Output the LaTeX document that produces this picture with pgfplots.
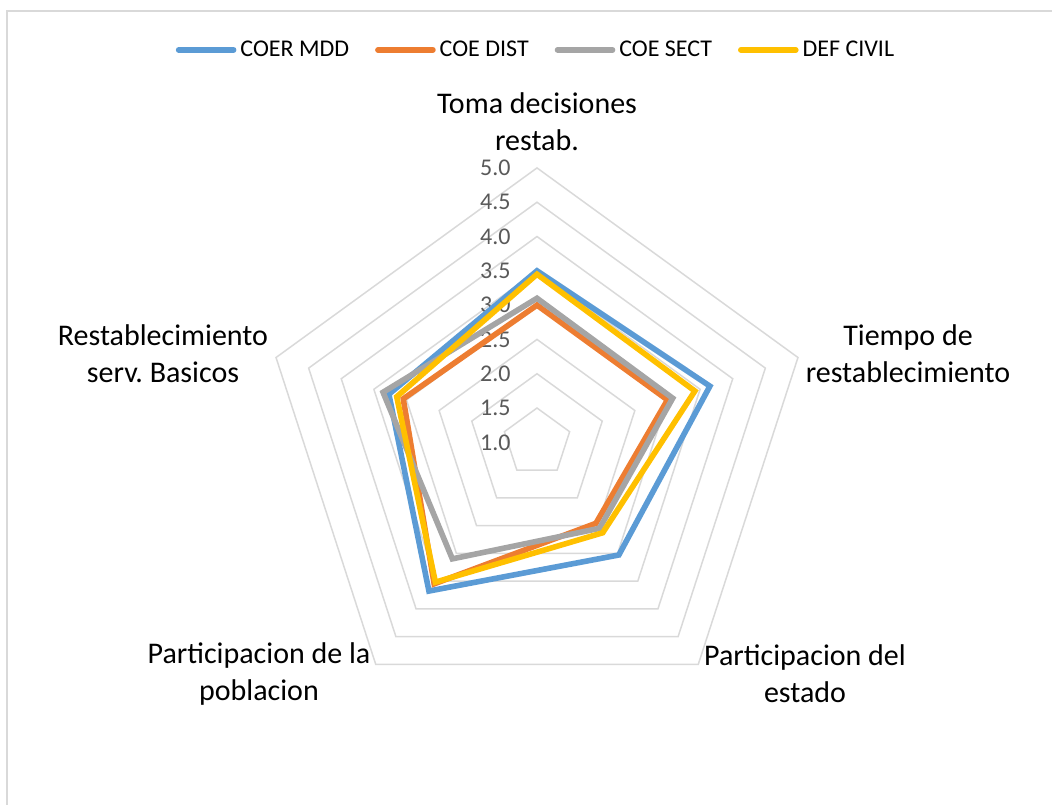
\documentclass[border=0pt]{standalone}
\usepackage{pgfplots}
\pgfplotsset{compat=1.18}
\usepgfplotslibrary{polar}
\usepackage{fontspec}
\setmainfont{Carlito}

\definecolor{cBlue}{HTML}{5B9BD5}
\definecolor{cOrange}{HTML}{ED7D31}
\definecolor{cGray}{HTML}{A5A5A5}
\definecolor{cYellow}{HTML}{FFC000}
\definecolor{gridc}{HTML}{D9D9D9}
\definecolor{tickc}{HTML}{595959}

% angle of each spoke, then the score of each group
\pgfplotstableread{
ang   coer  dist  sect  civil
90    3.50  3.00  3.10  3.45
18    3.65  3.00  3.08  3.42
-54   3.03  2.46  2.55  2.63
-126  3.68  3.55  3.10  3.52
162   3.27  3.05  3.36  3.15
}\radar

\begin{document}
\begin{tikzpicture}
\begin{polaraxis}[
  scale only axis, width=274.4pt, height=274.4pt,
  xmin=0, xmax=360, ymin=0, ymax=4,
  hide axis, clip=false,
  y filter/.expression={y-1},
  legend columns=4,
  legend style={at={(0.5,1.215)}, anchor=center, draw=none, fill=none,
    font=\fontsize{12}{14}\selectfont,
    /tikz/every even column/.append style={column sep=11pt}},
  legend image code/.code={\draw[#1,line cap=round] (0pt,0pt) -- (27.5pt,0pt);},
]
  \coordinate (C) at (axis cs:0,0);
  \pgfplotsinvokeforeach{1.5,2.0,2.5,3.0,3.5,4.0,4.5,5.0}{
    \addplot[gridc, line width=0.75pt, forget plot]
      coordinates {(90,#1) (18,#1) (-54,#1) (-126,#1) (162,#1)} --cycle;
  }
  \pgfplotsinvokeforeach{1.0,1.5,2.0,2.5,3.0,3.5,4.0,4.5,5.0}{
    \node[anchor=east, text=tickc, font=\fontsize{12}{14}\selectfont, inner sep=0pt,
      xshift=-13pt, yshift={(#1-1)*34.3pt}] at (axis cs:0,0) {#1};
  }
  \addplot[cBlue, line width=2.8pt] table[x=ang, y=coer] {\radar} --cycle;
  \addlegendentry{COER MDD}
  \addplot[cOrange, line width=2.8pt] table[x=ang, y=dist] {\radar} --cycle;
  \addlegendentry{COE DIST}
  \addplot[cGray, line width=2.8pt] table[x=ang, y=sect] {\radar} --cycle;
  \addlegendentry{COE SECT}
  \addplot[cYellow, line width=2.8pt] table[x=ang, y=civil] {\radar} --cycle;
  \addlegendentry{DEF CIVIL}
\end{polaraxis}

\begin{scope}[every node/.style={align=center, font=\fontsize{15}{18.5}\selectfont}]
  \node at ([shift={(0pt,160.4pt)}]C) {Toma decisiones\\restab.};
  \node at ([shift={(185.5pt,44.4pt)}]C) {Tiempo de\\restablecimiento};
  \node at ([shift={(134pt,-115.9pt)}]C) {Participacion del\\estado};
  \node at ([shift={(-139pt,-115.9pt)}]C) {Participacion de la\\poblacion};
  \node at ([shift={(-187pt,44.4pt)}]C) {Restablecimiento\\serv.\ Basicos};
\end{scope}

\draw[gridc, line width=0.75pt] ([shift={(257.5pt,215.65pt)}]C) -- ([shift={(-265pt,215.65pt)}]C)
  -- ([shift={(-265pt,-181.35pt)}]C);
\pgfresetboundingbox
\path[use as bounding box] ([shift={(-268.5pt,-181.35pt)}]C) rectangle ([shift={(257.5pt,221.15pt)}]C);
\end{tikzpicture}
\end{document}
